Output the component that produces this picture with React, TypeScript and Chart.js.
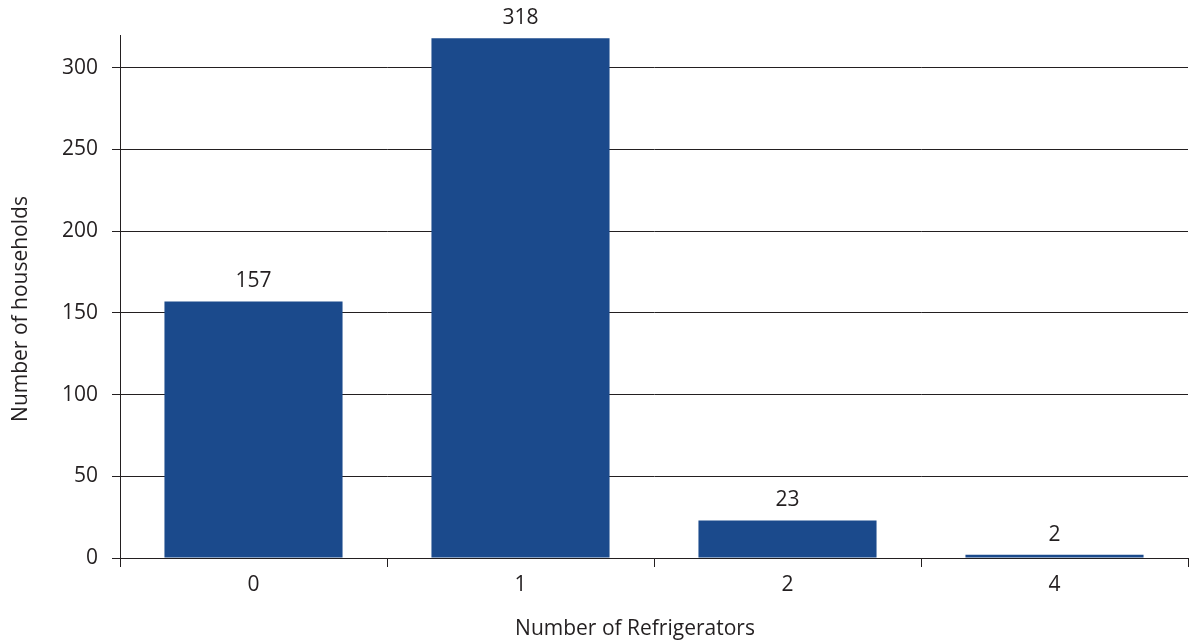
import React, { useEffect, useRef } from "react";
import { Chart, registerables } from "chart.js";

Chart.register(...registerables);

const categories: string[] = ["0", "1", "2", "4"];
const households: number[] = [157, 318, 23, 2];
const yTicks: number[] = [0, 50, 100, 150, 200, 250, 300];
const xTitle = "Number of Refrigerators";
const yTitle = "Number of households";

const INK = "#231f20";
const BAR = "#1b4a8c";
const FONT = "'Open Sans', 'Liberation Sans', sans-serif";
const FONT_SIZE = 21;

// Value labels above each bar, plus the two axis titles.
const annotations = {
  id: "annotations",
  afterDatasetsDraw(chart: any) {
    const { ctx } = chart;
    ctx.save();
    ctx.fillStyle = INK;
    ctx.font = `${FONT_SIZE}px ${FONT}`;
    ctx.textAlign = "center";
    ctx.textBaseline = "alphabetic";
    const meta = chart.getDatasetMeta(0);
    meta.data.forEach((bar: any, i: number) => {
      ctx.fillText(String(households[i]), bar.x, bar.y - 14);
    });

    ctx.fillText(xTitle, 635, 635);

    ctx.translate(21, 309);
    ctx.rotate(-Math.PI / 2);
    ctx.textBaseline = "middle";
    ctx.fillText(yTitle, 0, 0);
    ctx.restore();
  },
};

export default function App() {
  const canvasRef = useRef<HTMLCanvasElement | null>(null);

  useEffect(() => {
    const canvas = canvasRef.current;
    if (!canvas) return;
    const chart = new Chart(canvas, {
      type: "bar",
      data: {
        labels: categories,
        datasets: [
          {
            data: households,
            backgroundColor: BAR,
            borderWidth: 0,
            barPercentage: 0.667,
            categoryPercentage: 1,
          },
        ],
      },
      options: {
        responsive: false,
        animation: false,
        layout: { padding: { left: 0, top: 35, right: 4, bottom: 0 } },
        plugins: {
          legend: { display: false },
          tooltip: { enabled: false },
        },
        scales: {
          x: {
            offset: true,
            grid: {
              display: true,
              offset: true,
              drawOnChartArea: false,
              drawTicks: true,
              tickLength: 9,
              color: INK,
              lineWidth: 1,
            },
            border: { display: true, color: INK, width: 1 },
            ticks: {
              color: INK,
              font: { family: FONT, size: FONT_SIZE },
              padding: 5,
            },
            afterFit(scale: any) {
              scale.height = 85;
            },
          },
          y: {
            min: 0,
            max: 320,
            grid: {
              color: INK,
              lineWidth: 1,
              tickLength: 8,
            },
            border: { display: true, color: INK, width: 1 },
            ticks: {
              stepSize: 50,
              color: INK,
              font: { family: FONT, size: FONT_SIZE },
              padding: 14,
            },
            afterBuildTicks(scale: any) {
              scale.ticks = yTicks.map((v) => ({ value: v }));
            },
            afterFit(scale: any) {
              scale.width = 120;
            },
          },
        },
      },
      plugins: [annotations],
    });
    return () => chart.destroy();
  }, []);

  return (
    <div style={{ position: "absolute", left: 0, top: 0, width: 1192, height: 643, background: "#fff" }}>
      <canvas ref={canvasRef} width={1192} height={643} style={{ display: "block" }} />
    </div>
  );
}
